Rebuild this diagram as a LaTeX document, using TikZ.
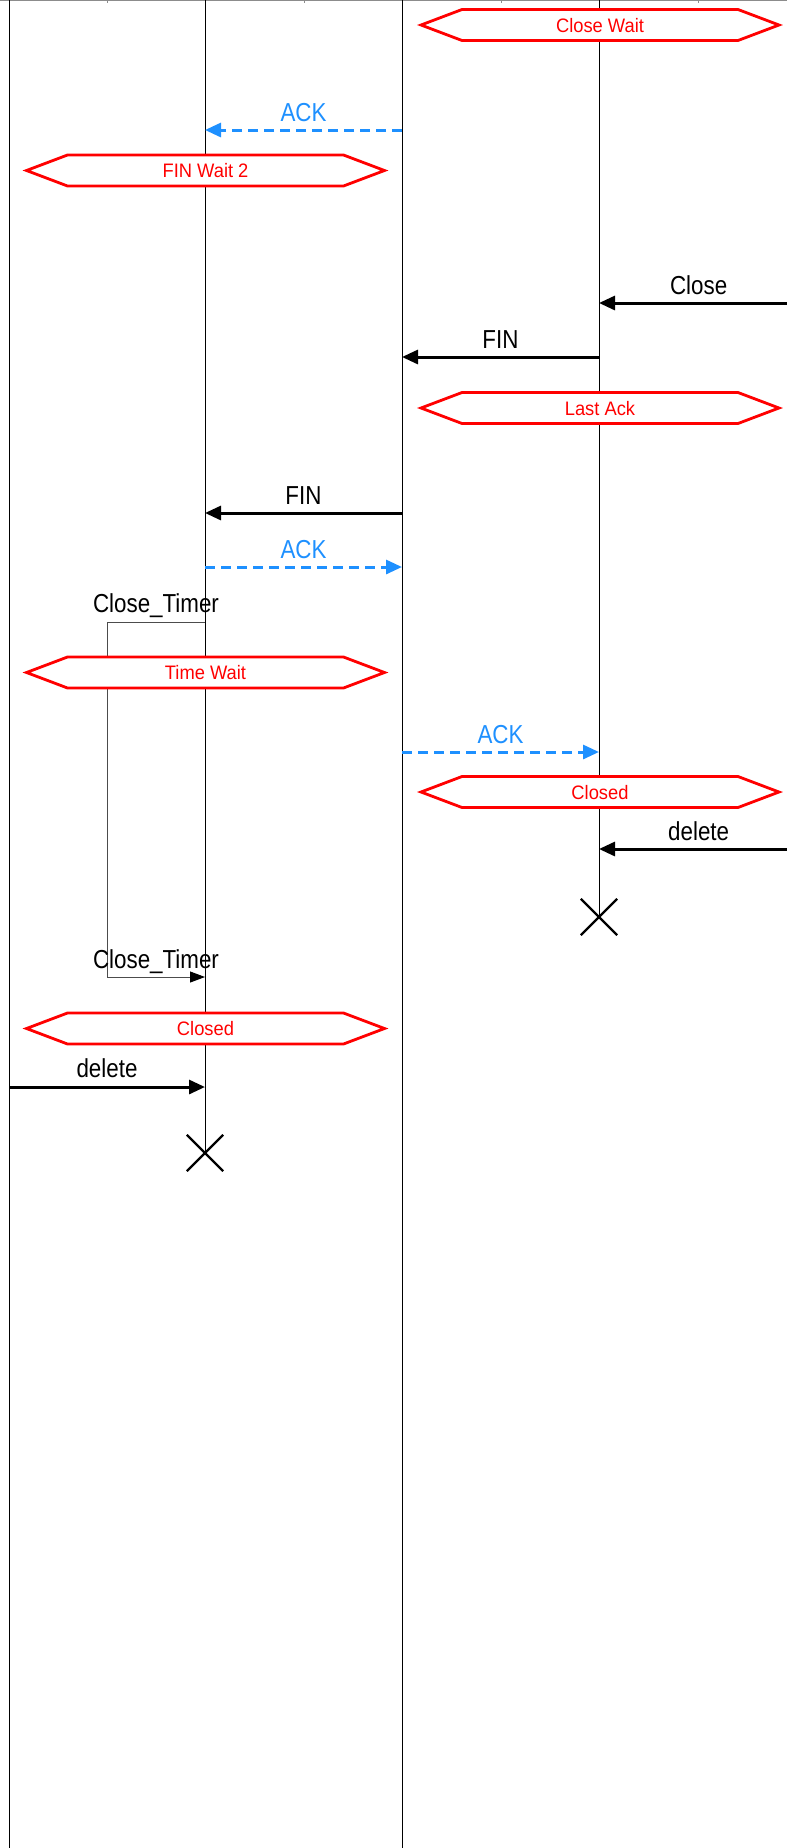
\documentclass[tikz,border=0pt]{standalone}
\usepackage{fontspec}
\setmainfont{Liberation Sans}
\newfontfamily\msgfont[FakeStretch=0.86]{Liberation Sans}
\newfontfamily\statefont[FakeStretch=0.94]{Liberation Sans}
\usetikzlibrary{arrows.meta,calc}
\definecolor{ackblue}{RGB}{30,144,255}
\definecolor{statered}{RGB}{255,0,0}

\tikzset{
  lifeline/.style={line width=1pt, black},
  msg/.style={line width=3pt, -{Triangle[length=16pt,width=14pt]}},
  ackmsg/.style={msg, ackblue, dash pattern=on 10pt off 6pt},
  msglabel/.style={font=\msgfont\fontsize{26}{30}\selectfont, anchor=base, inner sep=0pt},
  acklabel/.style={msglabel, text=ackblue},
  statetext/.style={font=\statefont\fontsize{19.5}{23}\selectfont, text=statered, anchor=base, inner sep=0pt},
  statehex/.style={draw=statered, line width=2.8pt, fill=white, line join=miter},
  timer/.style={line width=1pt, black!70, -{Triangle[length=15pt,width=11pt,color=black]}},
  destroy/.style={line width=2.2pt, black},
}

% state box: name, centre x, centre y, text
\newcommand\hexstate[4]{%
  \draw[statehex] (#2-179,#3) -- (#2-138,#3-15.5) -- (#2+138,#3-15.5)
    -- (#2+179,#3) -- (#2+138,#3+15.5) -- (#2-138,#3+15.5) -- cycle;
  \node[statetext] (#1) at (#2,#3+7) {#4};
}
% destruction mark: name, x, y
\newcommand\destroymark[3]{%
  \node[inner sep=0pt, minimum size=36pt] (#1) at (#2,#3) {};
  \draw[destroy] (#1.north west) -- (#1.south east);
  \draw[destroy] (#1.south west) -- (#1.north east);
}

\begin{document}
\begin{tikzpicture}[x=1pt, y=-1pt]
  \useasboundingbox (0,0) rectangle (787,1848);

  % top edge with ticks
  \draw[black!45, line width=1pt] (0,0.5) -- (787,0.5);
  \foreach \tx in {107,304,501,698} \draw[black!45, line width=1pt] (\tx,0) -- (\tx,2.5);

  % lifeline ends
  \coordinate (L1top) at (9,0);    \coordinate (L1bot) at (9,1848);
  \coordinate (L2top) at (205,0);
  \coordinate (L3top) at (402,0);  \coordinate (L3bot) at (402,1848);
  \coordinate (L4top) at (599,0);

  \destroymark{xright}{599}{917}
  \destroymark{xleft}{205}{1153}

  \draw[lifeline] (L1top) -- (L1bot);
  \draw[lifeline] (L2top) -- (xleft.center);
  \draw[lifeline] (L3top) -- (L3bot);
  \draw[lifeline] (L4top) -- (xright.center);

  % timer loop on the second lifeline
  \coordinate (tA) at (205,622);
  \coordinate (tB) at (107,622);
  \coordinate (tC) at (107,977);
  \coordinate (tD) at (205,977);
  \draw[timer] (tA) -- (tB) -- (tC) -- (tD);
  \node[msglabel] (timerstart) at (156,612.5) {Close\_Timer};
  \node[msglabel] (timerend) at (156,968) {Close\_Timer};

  % states
  \hexstate{closewait}{600}{25}{Close Wait}
  \hexstate{finwait}{205.5}{170.5}{FIN Wait 2}
  \hexstate{lastack}{600}{408}{Last Ack}
  \hexstate{timewait}{205.5}{672.5}{Time Wait}
  \hexstate{closedR}{600}{792}{Closed}
  \hexstate{closedL}{205.5}{1028.5}{Closed}

  % message ends
  \coordinate (a1s) at (402,130); \coordinate (a1e) at (205,130);
  \coordinate (c1s) at (787,303); \coordinate (c1e) at (599,303);
  \coordinate (f1s) at (599,357); \coordinate (f1e) at (402,357);
  \coordinate (f2s) at (402,513); \coordinate (f2e) at (205,513);
  \coordinate (a2s) at (205,567); \coordinate (a2e) at (402,567);
  \coordinate (a3s) at (402,752); \coordinate (a3e) at (599,752);
  \coordinate (d1s) at (787,849); \coordinate (d1e) at (599,849);
  \coordinate (d2s) at (9,1087);  \coordinate (d2e) at (205,1087);

  % messages
  \draw[ackmsg] (a1s) -- (a1e) node[acklabel, midway, yshift=9pt] (ack1) {ACK};
  \draw[msg] (c1s) -- (c1e) node[msglabel, pos=0.47, yshift=9pt] (close1) {Close};
  \draw[msg] (f1s) -- (f1e) node[msglabel, midway, yshift=9pt] (fin1) {FIN};
  \draw[msg] (f2s) -- (f2e) node[msglabel, midway, yshift=9pt] (fin2) {FIN};
  \draw[ackmsg] (a2s) -- (a2e) node[acklabel, midway, yshift=9pt] (ack2) {ACK};
  \draw[ackmsg] (a3s) -- (a3e) node[acklabel, midway, yshift=9pt] (ack3) {ACK};
  \draw[msg] (d1s) -- (d1e) node[msglabel, pos=0.47, yshift=9pt] (del1) {delete};
  \draw[msg] (d2s) -- (d2e) node[msglabel, midway, yshift=10pt] (del2) {delete};
\end{tikzpicture}
\end{document}
